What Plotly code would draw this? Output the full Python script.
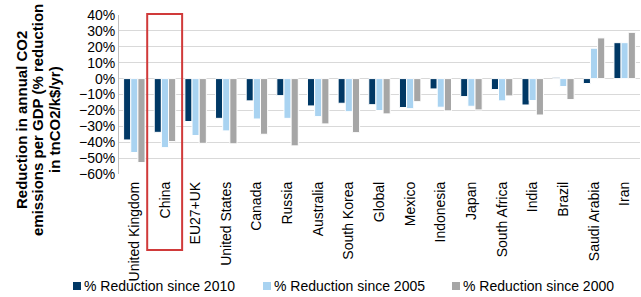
import plotly.graph_objects as go

categories = ["United Kingdom", "China", "EU27+UK", "United States", "Canada", "Russia",
              "Australia", "South Korea", "Global", "Mexico", "Indonesia", "Japan",
              "South Africa", "India", "Brazil", "Saudi Arabia", "Iran"]
since_2010 = [-38.6, -33.8, -27.0, -25.0, -14.0, -10.7, -17.2, -15.5, -16.4, -18.2, -6.5, -11.3, -6.9, -16.6, 0.8, -3.1, 22.6]
since_2005 = [-46.5, -43.4, -35.8, -32.9, -25.4, -25.0, -23.9, -20.8, -20.1, -18.9, -18.0, -17.4, -14.0, -13.8, -5.0, 19.1, 22.6]
since_2000 = [-52.8, -39.6, -40.7, -41.0, -35.0, -42.3, -28.5, -34.0, -22.2, -14.5, -20.3, -19.7, -10.9, -22.9, -13.2, 25.6, 29.1]
series_names = ["% Reduction since 2010", "% Reduction since 2005", "% Reduction since 2000"]
colors = ["#003865", "#a9d3f1", "#a6a6a6"]
y_ticks = list(range(-60, 41, 10))
y_title_lines = ["Reduction in annual CO2", "emissions per GDP (% reduction", "in tnCO2/k$/yr)"]

FONT = "Arial, 'Liberation Sans', sans-serif"
W, H = 641, 297
ML, MR, MT, MB = 119, 1, 15, 123
PW, PH = W - ML - MR, H - MT - MB


def px_x(p):
    return (p - ML) / PW


def px_y(p):
    return (MT + PH - p) / PH


fig = go.Figure()
for name, vals, col in zip(series_names, [since_2010, since_2005, since_2000], colors):
    fig.add_trace(go.Bar(x=categories, y=[v / 100 for v in vals], name=name, showlegend=False,
                         marker=dict(color=col, line=dict(color="white", width=1))))

fig.add_shape(type="rect", xref="x", yref="paper", x0=0.42, x1=1.56, y0=-0.478, y1=1.006,
              line=dict(color="#d03a3a", width=2), fillcolor="rgba(0,0,0,0)", layer="above")

# multi-line rotated axis title with tight line spacing
for xp, line in zip([21, 37, 54], y_title_lines):
    fig.add_annotation(text="<b>" + line + "</b>", xref="paper", yref="paper",
                       x=px_x(xp), y=px_y(120), xanchor="center", yanchor="middle",
                       textangle=-90, showarrow=False,
                       font=dict(size=15, family=FONT, color="#000"))

# legend row (Excel-style small squares)
legend_starts = [73, 263, 452]
for x0, name, col in zip(legend_starts, series_names, colors):
    fig.add_shape(type="rect", xref="paper", yref="paper",
                  x0=px_x(x0), x1=px_x(x0 + 8), y0=px_y(290), y1=px_y(282),
                  line=dict(width=0), fillcolor=col)
    fig.add_annotation(text=name, xref="paper", yref="paper",
                       x=px_x(x0 + 9), y=px_y(286), xanchor="left", yanchor="middle",
                       showarrow=False, font=dict(size=14, family=FONT, color="#000"))

fig.update_layout(
    width=W, height=H,
    margin=dict(l=ML, r=MR, t=MT, b=MB),
    paper_bgcolor="white", plot_bgcolor="white",
    barmode="group", bargap=0.3, bargroupgap=0,
    font=dict(family=FONT, size=14, color="#000000"),
    showlegend=False,
    xaxis=dict(tickangle=-90, showgrid=False, showline=False, ticks="",
               tickfont=dict(size=14), automargin=False, ticklabelstandoff=4),
    yaxis=dict(range=[-0.6, 0.4], tickvals=[t / 100 for t in y_ticks], tickformat=".0%",
               showgrid=True, gridcolor="#d9d9d9", gridwidth=1,
               zeroline=False, showline=True, linecolor="#bfbfbf", linewidth=1,
               ticks="", tickfont=dict(size=14), automargin=False),
)

fig.write_html("out.html", config={"displayModeBar": False},
               post_script="document.body.style.margin='0';document.body.style.padding='0';")
